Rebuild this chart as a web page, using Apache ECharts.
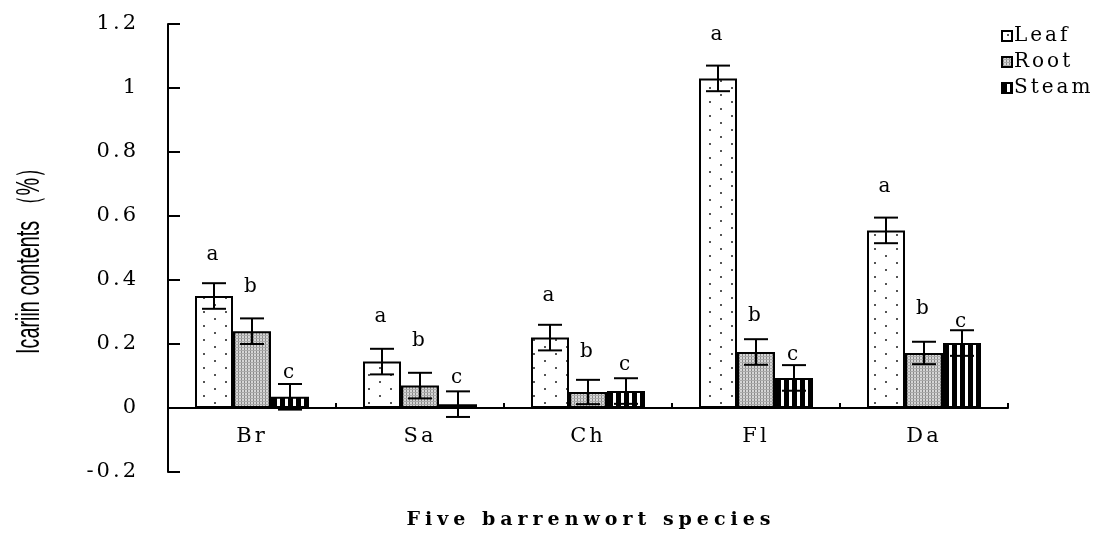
<!DOCTYPE html>
<html><head><meta charset="utf-8">
<script src="https://cdn.jsdelivr.net/npm/echarts@6/dist/echarts.min.js"></script>
<style>html,body{margin:0;padding:0;background:#fff}#c{width:1096px;height:534px}</style>
</head><body><div id="c"></div>
<script>
// ---- data ----
const categories = ['Br', 'Sa', 'Ch', 'Fl', 'Da'];
const seriesNames = ['Leaf', 'Root', 'Steam'];
const leafValues = [0.35, 0.145, 0.22, 1.03, 0.555];
const rootValues = [0.24, 0.07, 0.05, 0.175, 0.172];
const steamValues = [0.035, 0.012, 0.053, 0.094, 0.203];
const leafErrors = [0.04, 0.04, 0.04, 0.04, 0.04];
const rootErrors = [0.04, 0.04, 0.038, 0.04, 0.035];
const steamErrors = [0.04, 0.04, 0.04, 0.04, 0.04];
const leafLetters = ['a', 'a', 'a', 'a', 'a'];
const rootLetters = ['b', 'b', 'b', 'b', 'b'];
const steamLetters = ['c', 'c', 'c', 'c', 'c'];
const leafLetterY = [0.478, 0.284, 0.35, 1.166, 0.69];
const rootLetterY = [0.378, 0.21, 0.175, 0.288, 0.31];
const steamLetterY = [0.11, 0.094, 0.134, 0.166, 0.27];
const xTitle = 'Five barrenwort species';
const yTitle = 'Icariin contents （%）';

// wide letter spacing for the serif texts (style only)
const _fillText = CanvasRenderingContext2D.prototype.fillText;
CanvasRenderingContext2D.prototype.fillText = function () {
  if ('letterSpacing' in this) {
    const f = this.font || '';
    this.letterSpacing = f.indexOf('DejaVu Serif') >= 0 ? (f.indexOf('bold') >= 0 ? '5px' : '3px') : '0px';
  }
  return _fillText.apply(this, arguments);
};

// ---- patterns ----
function makePattern(kind) {
  const c = document.createElement('canvas');
  const g = c.getContext('2d');
  if (kind === 'leaf') {
    c.width = 22; c.height = 14;
    g.fillStyle = '#fff'; g.fillRect(0, 0, 22, 14);
    g.fillStyle = '#555';
    g.fillRect(5, 3, 2, 2); g.fillRect(16, 10, 2, 2);
  } else if (kind === 'root') {
    c.width = 3; c.height = 3;
    g.fillStyle = '#d6d6d6'; g.fillRect(0, 0, 3, 3);
    g.fillStyle = '#888'; g.fillRect(1, 0, 1, 3);
    g.fillStyle = '#aaa'; g.fillRect(0, 2, 3, 1);
  } else {
    c.width = 8; c.height = 2;
    g.fillStyle = '#fff'; g.fillRect(0, 0, 8, 2);
    g.fillStyle = '#000'; g.fillRect(0, 0, 5, 2);
  }
  return { image: c, repeat: 'repeat' };
}
const patterns = [makePattern('leaf'), makePattern('root'), makePattern('steam')];
const valueSets = [leafValues, rootValues, steamValues];
const errorSets = [leafErrors, rootErrors, steamErrors];
const letterSets = [leafLetters, rootLetters, steamLetters];
const letterYSets = [leafLetterY, rootLetterY, steamLetterY];

const BAR_W = 38;
const serif = 'DejaVu Serif';

const barSeries = seriesNames.map((n, i) => ({
  name: n, type: 'bar', barWidth: BAR_W, barGap: '0%',
  data: valueSets[i],
  itemStyle: { color: patterns[i], borderColor: '#000', borderWidth: 2 },
  z: 2
}));

const errSeries = seriesNames.map((n, i) => ({
  type: 'custom', z: 4, silent: true,
  data: categories.map((c, k) => [k, valueSets[i][k], errorSets[i][k]]),
  renderItem: (params, api) => {
    const k = api.value(0), v = api.value(1), e = api.value(2);
    const top = api.coord([k, v + e]);
    const bot = api.coord([k, v - e]);
    const cx = top[0] + (i - 1) * BAR_W;
    const h = 12;
    const st = { stroke: '#000', lineWidth: 2 };
    return { type: 'group', children: [
      { type: 'line', shape: { x1: cx, y1: top[1], x2: cx, y2: bot[1] }, style: st },
      { type: 'line', shape: { x1: cx - h, y1: top[1], x2: cx + h, y2: top[1] }, style: st },
      { type: 'line', shape: { x1: cx - h, y1: bot[1], x2: cx + h, y2: bot[1] }, style: st }
    ] };
  }
}));

const letterSeries = seriesNames.map((n, i) => ({
  type: 'custom', z: 5, silent: true,
  data: categories.map((c, k) => [k, letterYSets[i][k], letterSets[i][k]]),
  renderItem: (params, api) => {
    const k = api.value(0), v = api.value(1);
    const p = api.coord([k, v]);
    return { type: 'text', x: p[0] + (i - 1) * BAR_W, y: p[1],
      style: { text: letterSets[i][params.dataIndex], font: '20px "' + serif + '"', fill: '#000', align: 'center', verticalAlign: 'middle' } };
  }
}));

const chart = echarts.init(document.getElementById('c'), null, { renderer: 'canvas' });
chart.setOption({
  animation: false,
  backgroundColor: '#fff',
  grid: { left: 168, right: 88, top: 24, bottom: 62, containLabel: false },
  legend: {
    data: seriesNames, orient: 'vertical', left: 996, top: 21,
    itemWidth: 10, itemHeight: 10, itemGap: 6, icon: 'rect',
    textStyle: { fontFamily: serif, fontSize: 20, color: '#000', padding: [0, 0, 0, -3] }
  },
  xAxis: {
    type: 'category', data: categories,
    axisLine: { onZero: true, lineStyle: { color: '#000', width: 2 } },
    axisTick: { show: true, inside: true, length: 5, lineStyle: { color: '#000', width: 2 } },
    axisLabel: { fontFamily: serif, fontSize: 21, color: '#000', margin: -46 },
    splitLine: { show: false }
  },
  yAxis: {
    type: 'value', min: -0.2, max: 1.2, interval: 0.2,
    axisLine: { show: true, lineStyle: { color: '#000', width: 2 } },
    axisTick: { show: true, inside: true, length: 12, lineStyle: { color: '#000', width: 2 } },
    axisLabel: { fontFamily: serif, fontSize: 21, color: '#000', margin: 29 },
    splitLine: { show: false }
  },
  graphic: [
    { type: 'text', x: 30, y: 256, rotation: Math.PI / 2, scaleX: 0.6, scaleY: 1,
      style: { text: yTitle, font: '33px "Liberation Sans"', fill: '#000', align: 'center', verticalAlign: 'middle' } },
    { type: 'text', x: 591, y: 520,
      style: { text: xTitle, font: 'bold 19px "' + serif + '"', fill: '#000', align: 'center', verticalAlign: 'middle' } }
  ],
  series: [...barSeries, ...errSeries, ...letterSeries]
});
</script>
</body></html>
